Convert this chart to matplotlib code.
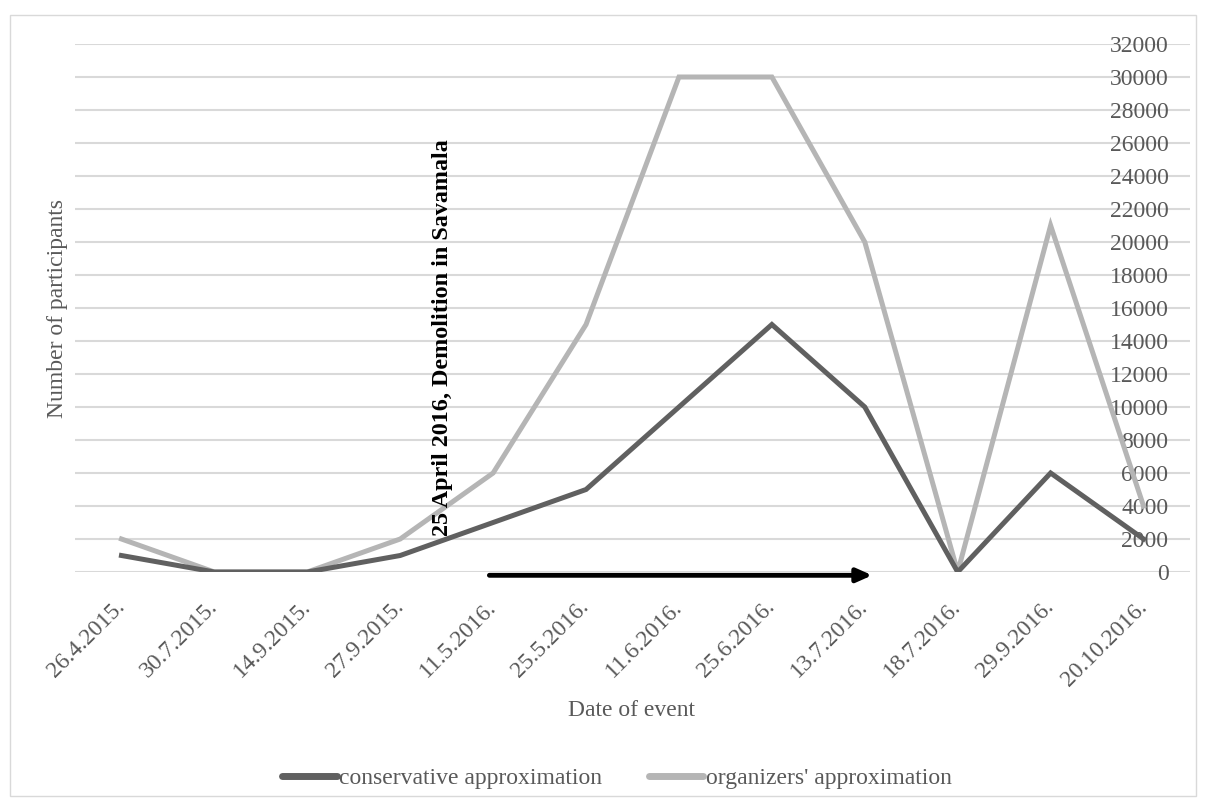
import matplotlib
matplotlib.use("Agg")
import matplotlib.pyplot as plt
from matplotlib.patches import Rectangle

# datos del grafico
fechas = ['26.4.2015.', '30.7.2015.', '14.9.2015.', '27.9.2015.', '11.5.2016.',
          '25.5.2016.', '11.6.2016.', '25.6.2016.', '13.7.2016.', '18.7.2016.',
          '29.9.2016.', '20.10.2016.']
conservative = [1000, 0, 0, 1000, 3000, 5000, 10000, 15000, 10000, 0, 6000, 2000]
organizers = [2000, 0, 0, 2000, 6000, 15000, 30000, 30000, 20000, 0, 21000, 4000]
y_ticks = list(range(0, 32001, 2000))

plt.rcParams['font.family'] = ['Liberation Serif', 'DejaVu Serif']
gris_texto = '#595959'

fig = plt.figure(figsize=(12.06, 8.08), dpi=100)
ax = fig.add_axes([75 / 1206, 1 - 572 / 808, 1115 / 1206, 528 / 808])

x = list(range(len(fechas)))
ax.plot(x, conservative, color='#606060', lw=3.6, solid_joinstyle='miter',
        label='conservative approximation', zorder=3)
ax.plot(x, organizers, color='#b5b5b5', lw=3.6, solid_joinstyle='miter',
        label="organizers' approximation", zorder=2)

ax.set_xlim(-0.5, len(fechas) - 0.5)
ax.set_ylim(0, 32000)

# rejilla horizontal
ax.set_yticks(y_ticks)
ax.yaxis.grid(True, color='#d9d9d9', lw=1.5)
ax.set_axisbelow(True)
for s in ax.spines.values():
    s.set_visible(False)

# etiquetas del eje y dentro del area, a la derecha
ax.tick_params(axis='y', left=False, labelleft=False, right=False,
               labelright=True, length=0, pad=-15.5, labelsize=17,
               labelcolor=gris_texto)
for t in ax.yaxis.get_major_ticks():
    t.label2.set_horizontalalignment('right')

ax.set_xticks(x)
ax.set_xticklabels(fechas, rotation=45, ha='right', va='center',
                   rotation_mode='anchor')
ax.tick_params(axis='x', length=0, pad=23, labelsize=17, labelcolor=gris_texto)

# anotacion y flecha
ax.text(3.46, 2200, '25 April 2016, Demolition in Savamala', rotation=90,
        ha='center', va='bottom', fontsize=17.4, fontweight='bold', color='black')
ax.annotate('', xy=(8.08, -200), xytext=(3.96, -200),
            arrowprops=dict(arrowstyle='-|>,head_length=0.9,head_width=0.4',
                            color='black', lw=3.5, shrinkA=0, shrinkB=0),
            annotation_clip=False)

fig.text(58 / 1206, 1 - 308 / 808, 'Number of participants', rotation=90,
         ha='center', va='center', fontsize=17, color=gris_texto)
fig.text(632 / 1206, 1 - 711 / 808, 'Date of event', ha='center',
         va='center', fontsize=17, color=gris_texto)

leg = fig.legend(loc='center', bbox_to_anchor=(617 / 1206, 1 - 778 / 808),
                 ncol=2, frameon=False, fontsize=17, handlelength=2.3,
                 handletextpad=0.1, columnspacing=2.0)
for t in leg.get_texts():
    t.set_color(gris_texto)
for h in leg.get_lines():
    h.set_linewidth(5)
    h.set_solid_capstyle('round')

# borde exterior
fig.patches.append(Rectangle((10 / 1206, 1 - 796 / 808), 1186 / 1206, 781 / 808,
                             transform=fig.transFigure, fill=False,
                             edgecolor='#d9d9d9', lw=1))

fig.savefig('out.png', dpi=100)
